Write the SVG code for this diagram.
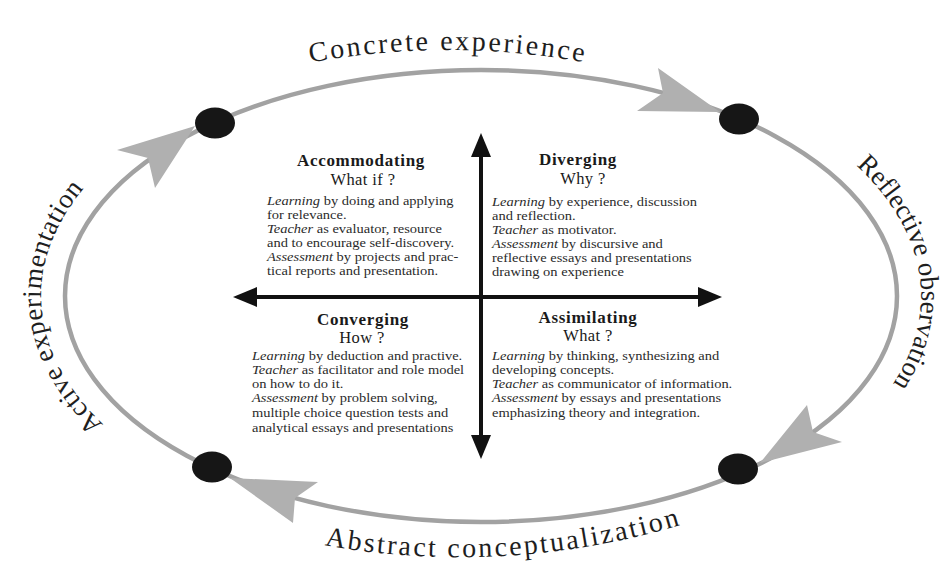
<svg xmlns="http://www.w3.org/2000/svg" width="945" height="564" viewBox="0 0 945 564">
<defs>
<style>
.ring{fill:none;stroke:#a2a2a2;stroke-width:4.5}
.head{fill:#b0b0b0}
.dot{fill:#161616}
.axis{stroke:#111;stroke-width:4;fill:none}
.big{font-family:"Liberation Serif","Times New Roman",serif;font-size:27px;fill:#1e1e1e}
.title{font-family:"Liberation Serif","Times New Roman",serif;font-size:17px;font-weight:bold;fill:#1a1a1a;letter-spacing:0.7px;text-anchor:middle}
.sub{font-family:"Liberation Serif","Times New Roman",serif;font-size:16.5px;fill:#1a1a1a;text-anchor:middle;letter-spacing:0.4px}
.body{font-family:"Liberation Serif","Times New Roman",serif;font-size:12.6px;fill:#2a2a2a}
.it{font-style:italic}
</style>
<marker id="ah" viewBox="0 0 24 20" markerWidth="24" markerHeight="20" refX="14" refY="10" orient="auto-start-reverse" markerUnits="userSpaceOnUse">
<path d="M0,0 L24,10 L0,20 z" fill="#111"/>
</marker>
<path id="pTop" d="M 293,66 A 760 760 0 0 1 603,66"/>
<path id="pBottom" d="M 200,512 A 770 770 0 0 0 720,512"/>
<path id="pRight" d="M 763.8,104.5 A 440 250 0 0 1 818.1,456.7"/>
<path id="pLeft" d="M 144,456.7 A 440 250 0 0 1 198.2,104.5"/>
</defs>
<rect width="945" height="564" fill="#fff"/>

<g id="connectors">
<ellipse class="ring" cx="481" cy="296" rx="416" ry="226"/>
<polygon class="head" points="720,112 658,68 663,93 637,111"/>
<polygon class="head" points="760,463 807,405 813,432 842,442"/>
<polygon class="head" points="230,478 318,482 295,498 293,523"/>
<polygon class="head" points="195,126 117,150 148,158 155,188"/>
<line class="axis" x1="481" y1="143" x2="481" y2="449" marker-start="url(#ah)" marker-end="url(#ah)"/>
<line class="axis" x1="243" y1="297" x2="712" y2="297" marker-start="url(#ah)" marker-end="url(#ah)"/>
</g>

<g id="dot-top-left"><ellipse class="dot" cx="215" cy="123" rx="20" ry="15.5"/></g>
<g id="dot-top-right"><ellipse class="dot" cx="739" cy="119" rx="20" ry="15.5"/></g>
<g id="dot-bottom-right"><ellipse class="dot" cx="738" cy="469" rx="20" ry="15.5"/></g>
<g id="dot-bottom-left"><ellipse class="dot" cx="212" cy="467" rx="20" ry="15.5"/></g>

<g id="label-concrete">
<text class="big" style="font-size:28px;letter-spacing:2.5px" text-anchor="middle"><textPath href="#pTop" startOffset="50%">Concrete experience</textPath></text>
</g>
<g id="label-reflective">
<text class="big"><textPath href="#pRight" startOffset="111">Reflective observation</textPath></text>
</g>
<g id="label-abstract">
<text class="big" style="font-size:28px;letter-spacing:2.4px"><textPath href="#pBottom" startOffset="129">Abstract conceptualization</textPath></text>
</g>
<g id="label-active">
<text class="big" style="letter-spacing:0.5px"><textPath href="#pLeft" startOffset="52">Active experimentation</textPath></text>
</g>

<g id="accommodating">
<text class="title" x="361" y="166">Accommodating</text>
<text class="sub" x="363" y="185">What if ?</text>
<text class="body" transform="translate(267,0) scale(1.15,1)">
<tspan x="0" y="205"><tspan class="it">Learning</tspan> by doing and applying</tspan>
<tspan x="0" y="219">for relevance.</tspan>
<tspan x="0" y="233"><tspan class="it">Teacher</tspan> as evaluator, resource</tspan>
<tspan x="0" y="247">and to encourage self-discovery.</tspan>
<tspan x="0" y="261"><tspan class="it">Assessment</tspan> by projects and prac-</tspan>
<tspan x="0" y="275">tical reports and presentation.</tspan>
</text>
</g>

<g id="diverging">
<text class="title" x="578" y="165">Diverging</text>
<text class="sub" x="583" y="184">Why ?</text>
<text class="body" transform="translate(492,0) scale(1.15,1)">
<tspan x="0" y="206"><tspan class="it">Learning</tspan> by experience, discussion</tspan>
<tspan x="0" y="220">and reflection.</tspan>
<tspan x="0" y="234"><tspan class="it">Teacher</tspan> as motivator.</tspan>
<tspan x="0" y="248"><tspan class="it">Assessment</tspan> by discursive and</tspan>
<tspan x="0" y="262">reflective essays and presentations</tspan>
<tspan x="0" y="276">drawing on experience</tspan>
</text>
</g>

<g id="converging">
<text class="title" x="363" y="325">Converging</text>
<text class="sub" x="362" y="343">How ?</text>
<text class="body" transform="translate(252,0) scale(1.15,1)">
<tspan x="0" y="360"><tspan class="it">Learning</tspan> by deduction and practive.</tspan>
<tspan x="0" y="374"><tspan class="it">Teacher</tspan> as facilitator and role model</tspan>
<tspan x="0" y="388">on how to do it.</tspan>
<tspan x="0" y="402"><tspan class="it">Assessment</tspan> by problem solving,</tspan>
<tspan x="0" y="417">multiple choice question tests and</tspan>
<tspan x="0" y="432">analytical essays and presentations</tspan>
</text>
</g>

<g id="assimilating">
<text class="title" x="588" y="323">Assimilating</text>
<text class="sub" x="588" y="341">What ?</text>
<text class="body" transform="translate(492,0) scale(1.15,1)">
<tspan x="0" y="360"><tspan class="it">Learning</tspan> by thinking, synthesizing and</tspan>
<tspan x="0" y="374">developing concepts.</tspan>
<tspan x="0" y="388"><tspan class="it">Teacher</tspan> as communicator of information.</tspan>
<tspan x="0" y="402"><tspan class="it">Assessment</tspan> by essays and presentations</tspan>
<tspan x="0" y="417">emphasizing theory and integration.</tspan>
</text>
</g>
</svg>
